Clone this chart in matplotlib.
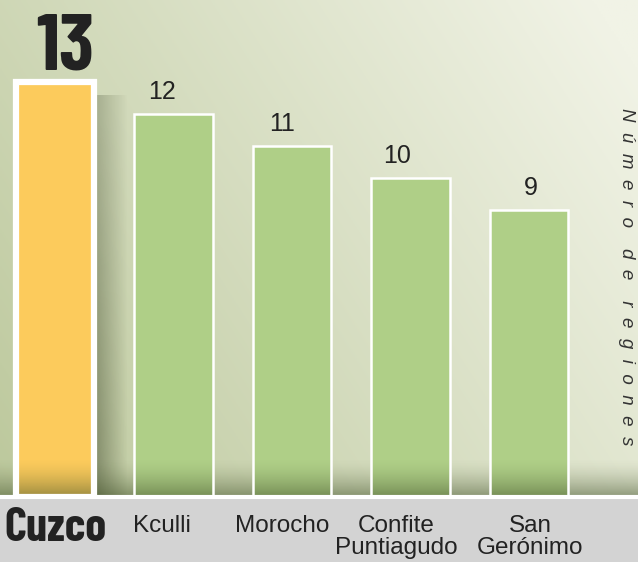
import numpy as np
import matplotlib
matplotlib.use("Agg")
import matplotlib.pyplot as plt
from matplotlib.colors import to_rgb

# data
categories = ["Cuzco", "Kculli", "Morocho", "Confite\nPuntiagudo", "San\nGerónimo"]
values = [13, 12, 11, 10, 9]
highlight = "Cuzco"
ylabel = "Número de regiones"

# small horizontal nudges (points) for the texts under/over each bar
label_dx = [0, -8.5, -7, -10, 1]

BG_DARK = "#bcc89c"
BG_LIGHT = "#f1f3e6"
GREEN = "#afcf87"
YELLOW = "#fccb5c"
STRIP = "#d3d3d3"
TXT = "#222222"

NARROW = ["Barlow Condensed", "DejaVu Sans"]
SANS = ["Liberation Sans", "DejaVu Sans"]

fig = plt.figure(figsize=(6.38, 5.62), dpi=100)
fig.patch.set_facecolor(STRIP)
ax = fig.add_axes([0, 65 / 562, 1, 497 / 562])

x = np.arange(len(categories))
ymax = 15.58
xlo, xhi = -0.464, 4.92
ax.set_xlim(xlo, xhi)
ax.set_ylim(0, ymax)
for s in ax.spines.values():
    s.set_visible(False)
ax.set_xticks([]); ax.set_yticks([])

# background gradient (darker bottom-left, lighter top-right)
u, v = np.meshgrid(np.linspace(0, 1, 300), np.linspace(0, 1, 300))
t = np.clip(0.7 * u + 0.35 * v, 0, 1)
c0, c1 = np.array(to_rgb(BG_DARK)), np.array(to_rgb(BG_LIGHT))
bg = c0[None, None, :] * (1 - t[..., None]) + c1[None, None, :] * t[..., None]
ax.imshow(bg, extent=(xlo, xhi, 0, ymax), origin="lower", aspect="auto", zorder=0)

width = 0.66
# soft shadow right of the highlighted bar
hi = categories.index(highlight)
sh = np.zeros((10, 60, 4))
sh[..., :3] = to_rgb("#3c4428")
sh[..., 3] = np.linspace(0.5, 0, 60)[None, :] * np.linspace(1, 0.6, 10)[:, None]
ax.imshow(sh, extent=(x[hi] + width / 2, x[hi] + width / 2 + 0.28, 0, values[hi] - 0.4),
          origin="lower", aspect="auto", zorder=1)

colors = [YELLOW if c == highlight else GREEN for c in categories]
ax.bar(x, values, width=width, color=colors, linewidth=0, zorder=2)

# darkening toward the baseline
dk = np.zeros((50, 10, 4))
dk[..., :3] = to_rgb("#3a4a22")
dk[..., 3] = (np.linspace(1, 0, 50) ** 1.6)[:, None] * 0.5
ax.imshow(dk, extent=(xlo, xhi, 0, 1.2), origin="lower", aspect="auto", zorder=3)

# white outlines
for i, (xi, val) in enumerate(zip(x, values)):
    lw = 4.5 if categories[i] == highlight else 1.8
    ax.bar(xi, val, width=width, fill=False, edgecolor="white", linewidth=lw, zorder=4)

# value labels
for i, (xi, val) in enumerate(zip(x, values)):
    if categories[i] == highlight:
        ax.annotate(str(val), (xi, val), xytext=(7, 9), textcoords="offset points",
                    ha="center", va="baseline", fontsize=58, fontweight="bold",
                    family=NARROW, color=TXT, zorder=5)
    else:
        ax.annotate(str(val), (xi, val), xytext=(label_dx[i], 11), textcoords="offset points",
                    ha="center", va="baseline", fontsize=18, family=SANS,
                    color=TXT, zorder=5)

# baseline white line
ax.axhline(0, color="white", lw=3, clip_on=False, zorder=6)

# category labels
for i, (xi, name) in enumerate(zip(x, categories)):
    if name == highlight:
        ax.text(xi, -0.3, name, ha="center", va="top", fontsize=34, fontweight="bold",
                family=NARROW, color=TXT, clip_on=False)
    else:
        ax.annotate(name, (xi, 0), xytext=(label_dx[i], -13), textcoords="offset points",
                    ha="center", va="top", fontsize=17.5, family=SANS, color=TXT,
                    linespacing=1.0, annotation_clip=False, multialignment="center")

# spaced vertical label on the right
spaced = "    ".join("  ".join(w) for w in ylabel.split(" "))
fig.text(626 / 638, 1 - 277 / 562, spaced, rotation=-90, ha="center", va="center",
         fontsize=13.5, style="italic", family=SANS, color="#333333")

fig.savefig("out.png", dpi=100, facecolor=fig.get_facecolor())
